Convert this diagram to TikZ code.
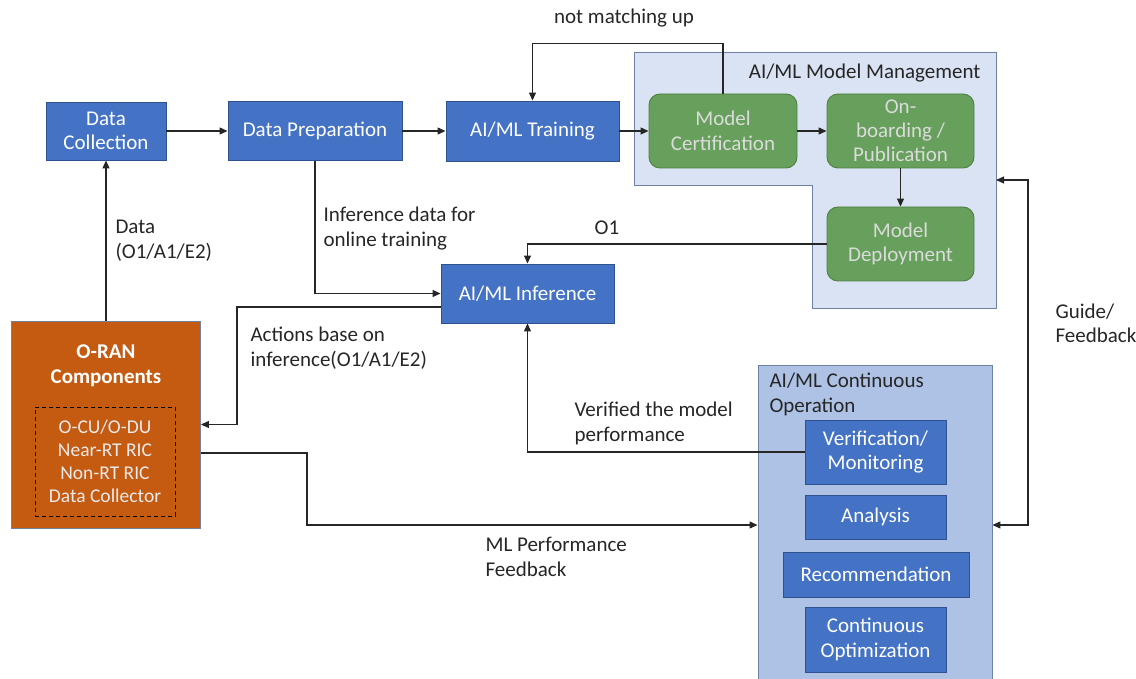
\documentclass[tikz,border=0pt]{standalone}
\usepackage{fontspec}
\setmainfont{Carlito}
\usetikzlibrary{arrows.meta, positioning}

\definecolor{boxblue}{HTML}{4472C4}
\definecolor{boxedge}{HTML}{2F528F}
\definecolor{boxgreen}{HTML}{67A05C}
\definecolor{greenedge}{HTML}{4E7F3F}
\definecolor{mgmtfill}{HTML}{DAE3F3}
\definecolor{opfill}{HTML}{AEC2E6}
\definecolor{panelline}{HTML}{6F82A6}
\definecolor{oranfill}{HTML}{C55A11}
\definecolor{txtgray}{HTML}{262626}

\begin{document}
\begin{tikzpicture}[
    x=1pt, y=-1pt,
    >={Triangle[length=8pt,width=7pt]},
    line width=1.1pt,
    font=\fontsize{21}{24.5}\selectfont,
    blk/.style={
        draw=boxedge,
        line width=0.9pt,
        fill=boxblue,
        text=white,
        align=center,
        inner sep=2pt
    },
    grn/.style={
        draw=greenedge,
        line width=0.9pt,
        fill=boxgreen,
        text=white!86!black,
        rounded corners=11pt,
        align=center,
        inner sep=2pt
    },
    panel/.style={
        draw=panelline,
        line width=0.9pt
    },
    lab/.style={
        text=txtgray,
        align=left,
        inner sep=1pt
    },
    link/.style={
        draw=black!85,
        line width=1.1pt
    }
]
\useasboundingbox (0,0) rectangle (1136,679);

% =========================================================
% Top row: data pipeline
% =========================================================
\node[blk, minimum width=120pt, minimum height=58pt] (dcol)  at (106,131)   {Data\\Collection};
\node[blk, minimum width=174pt, minimum height=59pt] (dprep) at (315,131)   {Data Preparation};
\node[blk, minimum width=173pt, minimum height=60pt] (train) at (532.5,131) {AI/ML Training};
\node[blk, minimum width=173pt, minimum height=59pt] (infer) at (527.5,293.5) {AI/ML Inference};

% =========================================================
% Model management panel (L-shaped)
% =========================================================
\draw[panel, fill=mgmtfill]
    (634,52) -- (996,52) -- (996,308) -- (812,308) -- (812,185) -- (634,185) -- cycle;
\coordinate (mmeast) at (996,180);
\node[lab, anchor=east] (mgmt) at (982,73) {AI/ML Model Management};

\node[grn, minimum width=148pt, minimum height=74pt] (cert) at (723,131)   {Model\\Certification};
\node[grn, minimum width=147pt, minimum height=74pt, font=\fontsize{21}{24}\selectfont] (onb) at (900.5,131) {On-\\boarding /\\Publication};
\node[grn, minimum width=147pt, minimum height=74pt] (depl) at (900.5,244) {Model\\Deployment};

% =========================================================
% Continuous operation panel
% =========================================================
\node[panel, fill=opfill, minimum width=234pt, minimum height=330pt] (contop) at (875,530) {};
\node[lab, anchor=west] (contttl) at (768,394.5) {AI/ML Continuous\\Operation};

\node[blk, minimum width=141pt, minimum height=64pt] (verif) at (875.5,452)   {Verification/\\Monitoring};
\node[blk, minimum width=141pt, minimum height=44pt] (anal)  at (875.5,517)   {Analysis};
\node[blk, minimum width=186pt, minimum height=45pt] (recom) at (876,574.5)   {Recommendation};
\node[blk, minimum width=141pt, minimum height=65pt] (optim) at (875.5,639.5) {Continuous\\Optimization};

% =========================================================
% O-RAN components
% =========================================================
\node[draw=panelline, line width=0.9pt, fill=oranfill, minimum width=189pt, minimum height=207pt] (oran) at (106,424.5) {};
\node[text=white, align=center, font=\fontsize{21}{25}\selectfont\bfseries] (oranttl) at (106,365.5) {O-RAN\\Components};
\node[draw=black, line width=0.8pt, dash pattern=on 4pt off 3pt, text=white!92!black, align=center,
      minimum width=140pt, minimum height=109pt, font=\fontsize{19.5}{23}\selectfont] (orancomp) at (105,461.5)
    {O-CU/O-DU\\Near-RT RIC\\Non-RT RIC\\Data Collector};

% =========================================================
% Connectors
% =========================================================
\draw[link,->] (dcol.east) -- (dprep.west);
\draw[link,->] (dprep.east) -- (train.west);
\draw[link,->] (train.east) -- (cert.west);
\draw[link,->] (cert) -- (onb);
\draw[link,->] (onb) -- (depl);

\draw[link,->] (cert.north) -- ++(0,-50) -| (train.north);
\node[lab] (nomatch) at (624,18) {not matching up};

\draw[link,->] (depl.west) -| (infer.north);
\node[lab] (oone) at (607,228) {O1};

\draw[link,->] (dprep.south) |- (infer.west);
\node[lab, anchor=west] (infdata) at (322,228.5) {Inference data for\\online training};

\draw[link,->] (oran.north) -- (dcol.south);
\node[lab, anchor=west] (datalab) at (114,240.5) {Data\\(O1/A1/E2)};

\coordinate (act) at (237,424.5);
\draw[link,->] ([yshift=-13.5pt]infer.west) -| (act) -- (oran.east);
\node[lab, anchor=west] (actlab) at (249,348) {Actions base on\\inference(O1/A1/E2)};

\draw[link,->] (verif.west) -| (infer.south);
\node[lab, anchor=west] (veriflab) at (573,423.5) {Verified the model\\performance};

\coordinate (mlp) at (307,525);
\draw[link,->] ([yshift=-28.5pt]oran.east) -| (mlp) -- (mlp -| contop.west);
\node[lab, anchor=west] (mllab) at (484,557) {ML Performance\\Feedback};

\coordinate (gftop) at (1028,180);
\coordinate (gfbot) at (1028,525);
\draw[link,<->] (mmeast) -- (gftop) -- (gfbot) -- (gfbot -| contop.east);
\node[lab, anchor=west] (gflab) at (1054,323.5) {Guide/\\Feedback};

\end{tikzpicture}
\end{document}
